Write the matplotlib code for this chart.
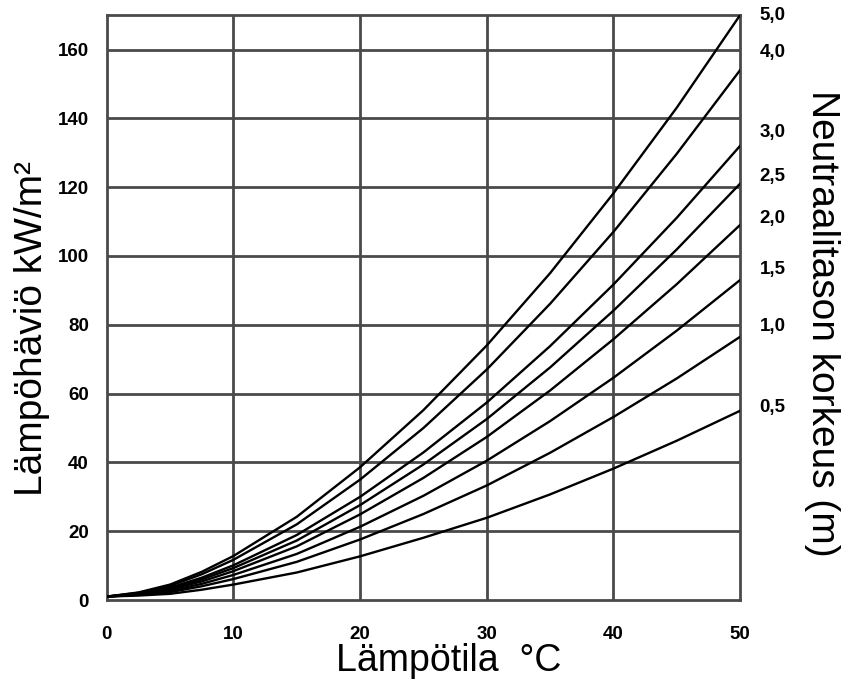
import numpy as np
import matplotlib.pyplot as plt

plt.rcParams['font.family'] = ['Liberation Sans', 'DejaVu Sans']

# lämpötila (°C) and heat loss for each neutral plane height
temp = [0, 2.5, 5, 7.5, 10, 15, 20, 25, 30, 35, 40, 45, 50]
heights = ['5,0', '4,0', '3,0', '2,5', '2,0', '1,5', '1,0', '0,5']
loss = {
    '5,0': [1, 2.2, 4.5, 8.2, 12.8, 24.2, 38.6, 55.2, 74.0, 95.0, 118.2, 143.1, 170],
    '4,0': [1, 2.1, 4.1, 7.5, 11.7, 22.0, 35.0, 50.0, 67.0, 86.1, 107.0, 129.7, 154],
    '3,0': [1, 1.9, 3.6, 6.5, 10.1, 18.9, 30.0, 42.9, 57.4, 73.8, 91.7, 111.1, 132],
    '2,5': [1, 1.8, 3.3, 6.0, 9.3, 17.3, 27.6, 39.4, 52.6, 67.6, 84.1, 101.9, 121],
    '2,0': [1, 1.7, 3.1, 5.4, 8.4, 15.6, 24.9, 35.5, 47.4, 60.9, 75.8, 91.8, 109],
    '1,5': [1, 1.6, 2.7, 4.7, 7.3, 13.4, 21.3, 30.3, 40.5, 52.0, 64.6, 78.3, 93],
    '1,0': [1, 1.5, 2.3, 4.0, 6.1, 11.1, 17.6, 25.0, 33.3, 42.8, 53.2, 64.4, 76.5],
    '0,5': [1, 1.3, 1.8, 3.0, 4.5, 8.0, 12.7, 18.1, 23.9, 30.7, 38.2, 46.3, 55],
}
label_off = {'5,0': 0, '4,0': 5, '3,0': 4, '2,5': 2, '2,0': 2, '1,5': 3, '1,0': 3, '0,5': 1}

fig = plt.figure(figsize=(8.41, 6.87), dpi=100)
ax = fig.add_axes([0.127, 0.1266, 0.753, 0.8514])

grid_c = '#4a4a4a'
for yv in range(20, 170, 20):
    ax.axhline(yv, color=grid_c, lw=2.0, zorder=1)
for xv in range(10, 50, 10):
    ax.axvline(xv, color=grid_c, lw=2.0, zorder=1)

for h in heights:
    ax.plot(temp, loss[h], color='black', lw=1.7, zorder=3)
    ax.annotate(h, xy=(50, loss[h][-1] + label_off[h]), xytext=(14, 0),
                textcoords='offset points', va='center', ha='left',
                fontsize=13.5, fontweight='bold', annotation_clip=False)

ax.set_xlim(0, 50)
ax.set_ylim(0, 170)
ax.set_xticks(range(0, 51, 10))
ax.set_yticks(range(0, 161, 20))
ax.tick_params(length=0, labelsize=13.5)
ax.tick_params(axis='x', pad=19)
ax.tick_params(axis='y', pad=13)
for lab in ax.get_xticklabels() + ax.get_yticklabels():
    lab.set_fontweight('bold')
for s in ax.spines.values():
    s.set_color(grid_c)
    s.set_linewidth(2.0)

ax.text(0.54, -0.105, 'Lämpötila  °C', transform=ax.transAxes,
        fontsize=27, ha='center', va='center')
ax.set_ylabel('Lämpöhäviö kW/m²', fontsize=28)
ax.yaxis.set_label_coords(-0.09, 0.465)
fig.text(0.977, 0.53, 'Neutraalitason korkeus (m)', rotation=270,
         fontsize=28, ha='center', va='center')

fig.savefig('out.png', dpi=100)
